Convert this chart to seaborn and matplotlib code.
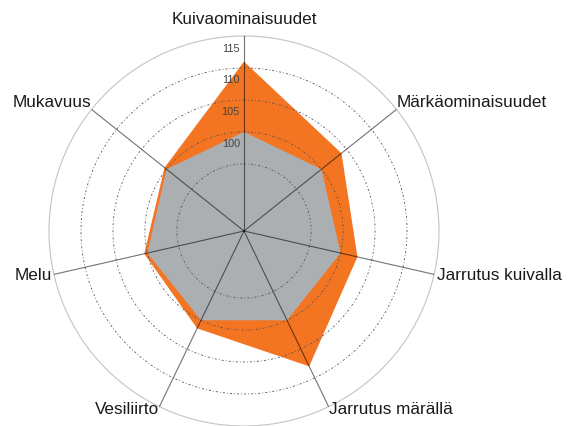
import numpy as np
import matplotlib
matplotlib.use("Agg")
import matplotlib.pyplot as plt
import seaborn as sns

# data
categories = ["Kuivaominaisuudet", "Märkäominaisuudet", "Jarrutus kuivalla",
              "Jarrutus märällä", "Vesiliirto", "Melu", "Mukavuus"]
tested = [111.0, 104.0, 102.7, 108.0, 101.4, 100.5, 100.4]
reference = [100, 100, 100, 100, 100, 100, 100]
ring_values = [95, 100, 105, 110]
tick_labels = ["100", "105", "110", "115"]

sns.set_theme(style="white")
plt.rcParams["font.family"] = ["Liberation Sans", "DejaVu Sans"]

R_MIN, R_MAX = 84.5, 115

fig = plt.figure(figsize=(5.68, 4.27), dpi=100)
ax = fig.add_axes([49 / 568, 0.0, 390 / 568, 390 / 427], projection="polar")
ax.set_theta_zero_location("N")
ax.set_theta_direction(-1)
ax.set_ylim(R_MIN, R_MAX)

n = len(categories)
angles = np.linspace(0, 2 * np.pi, n, endpoint=False)
closed = np.append(angles, angles[0])

ax.fill(closed, tested + tested[:1], color="#F37421", lw=0, zorder=1)
ax.fill(closed, reference + reference[:1], color="#ABAFB2", lw=0, zorder=1.5)

# dotted rings
theta = np.linspace(0, 2 * np.pi, 400)
for rv in ring_values:
    ax.plot(theta, np.full_like(theta, rv), color="#555555", lw=0.6,
            ls=(0, (2.5, 2.5, 1, 2.5)), zorder=2)

# spokes
for a in angles:
    ax.plot([a, a], [R_MIN, R_MAX], color="black", alpha=0.55, lw=0.8, zorder=3)

ax.grid(False)
ax.set_xticks([])
ax.set_yticks([])
ax.spines["polar"].set_color("#c4c4c4")
ax.spines["polar"].set_linewidth(0.8)

# radial tick labels
for lab in tick_labels:
    ax.annotate(lab, xy=(0, float(lab) - 1.8), xytext=(-3, 0),
                textcoords="offset points", ha="right", va="center",
                fontsize=7.8, color="#444444")

# category labels
label_pos = [
    (116.5, "center", "bottom"),
    (115.0, "left", "bottom"),
    (115.4, "left", "center"),
    (115.3, "left", "center"),
    (115.3, "right", "center"),
    (115.3, "right", "center"),
    (115.0, "right", "bottom"),
]
for a, name, (r, ha, va) in zip(angles, categories, label_pos):
    ax.text(a, r, name, ha=ha, va=va, fontsize=12.3, color="#1a1a1a",
            clip_on=False)

fig.savefig("out.png", dpi=100)
